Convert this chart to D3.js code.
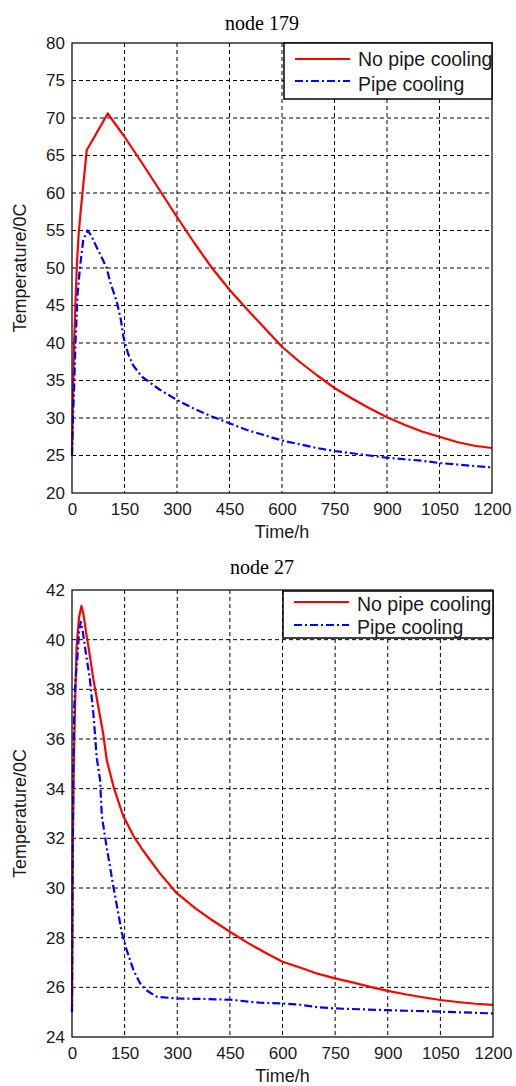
<!DOCTYPE html>
<html>

<head>
    <meta charset="utf-8">
    <style>
        body {
            margin: 0;
            background: #fff;
        }

        svg {
            display: block;
        }

        .tick-label {
            font-family: 'Liberation Sans', Arial, sans-serif;
            font-size: 17px;
            fill: #1a1a1a;
        }

        .axis-title {
            font-family: 'Liberation Sans', Arial, sans-serif;
            font-size: 18px;
            fill: #1a1a1a;
        }

        .chart-title {
            font-family: 'Liberation Serif', 'Times New Roman', serif;
            font-size: 20px;
            fill: #000;
        }

        .legend-text {
            font-family: 'Liberation Sans', Arial, sans-serif;
            font-size: 19.5px;
            fill: #1a1a1a;
        }
    </style>
</head>

<body>
    <svg width="516" height="1086"></svg>
</body>

<script src="https://d3js.org/d3.v7.min.js"></script>

<script>
    // tick values
    let xTicks = [0, 150, 300, 450, 600, 750, 900, 1050, 1200]
    let node179YTicks = [20, 25, 30, 35, 40, 45, 50, 55, 60, 65, 70, 75, 80]
    let node27YTicks = [24, 26, 28, 30, 32, 34, 36, 38, 40, 42]

    let seriesNames = ["No pipe cooling", "Pipe cooling"]

    // node 179, [time h, temperature]
    let node179NoPipe = [
        [0, 25], [3, 33], [6, 40], [10, 45.5], [14, 50.5], [19, 54.5], [25, 57.7], [42, 65.7],
        [102, 70.6], [147, 67.7], [200, 64], [250, 60.4], [300, 56.8], [350, 53.3],
        [400, 50], [450, 47.1], [500, 44.5], [550, 42], [600, 39.5], [650, 37.5], [700, 35.7],
        [750, 34], [800, 32.6], [850, 31.3], [900, 30.1], [950, 29.1], [1000, 28.2],
        [1050, 27.5], [1100, 26.8], [1150, 26.3], [1200, 26.0]
    ]
    let node179Pipe = [
        [0, 25], [3, 30], [6, 34], [10, 40], [16, 46.5], [23, 50.2], [32, 53.7], [40, 54.6],
        [45, 55], [55, 54.3], [70, 52.8], [85, 51.4], [99, 50], [110, 48], [128, 45.5],
        [140, 43], [147, 40.8], [160, 38.6], [175, 37], [200, 35.5], [250, 33.8], [300, 32.4],
        [350, 31.2], [400, 30.2], [450, 29.3], [500, 28.4], [550, 27.7], [600, 27.0],
        [650, 26.5], [700, 26.0], [750, 25.6], [800, 25.3], [850, 25.0], [900, 24.7],
        [950, 24.5], [1000, 24.3], [1050, 24.0], [1100, 23.8], [1150, 23.6], [1200, 23.4]
    ]

    // node 27
    let node27NoPipe = [
        [0, 25], [2, 31], [5, 35], [9, 37.5], [13, 39.7], [20, 40.9], [27, 41.36], [33, 41],
        [40, 40.3], [47, 39.7], [61, 38.4], [75, 37.3], [89, 36.2], [99, 35.15], [120, 34],
        [146, 32.9], [175, 32.1], [203, 31.5], [250, 30.6], [298, 29.8], [350, 29.2],
        [400, 28.7], [450, 28.24], [500, 27.8], [550, 27.4], [600, 27.03], [650, 26.8],
        [700, 26.55], [750, 26.36], [800, 26.2], [850, 26.02], [900, 25.86], [950, 25.72],
        [1000, 25.6], [1050, 25.49], [1100, 25.41], [1150, 25.34], [1200, 25.29]
    ]
    let node27Pipe = [
        [0, 25], [2, 31], [4, 35], [6, 37.2], [10, 38.4], [15, 39.2], [20, 40.3], [25, 40.72],
        [31, 40.3], [37, 39.7], [51, 38.4], [61, 37.0], [66, 36.1], [70, 35.3], [80, 34.35],
        [85, 32.9], [97, 31.8], [118, 30.05], [142, 28.2], [156, 27.5], [175, 26.7],
        [194, 26.16], [215, 25.85], [242, 25.62], [299, 25.55], [380, 25.53], [451, 25.5],
        [537, 25.38], [600, 25.35], [650, 25.3], [700, 25.2], [750, 25.15], [900, 25.08],
        [1050, 25.02], [1200, 24.95]
    ]

    let svg = d3.select("svg")

    let panels = [
        {
            title: "node 179", series: [node179NoPipe, node179Pipe], yTicks: node179YTicks,
            left: 72, right: 492, top: 43, bottom: 493, titleX: 262, titleY: 30,
            legend: { x1: 284, x2: 492, y1: 43, y2: 99, rows: [59, 81], textDy: [7, 10] }
        },
        {
            title: "node 27", series: [node27NoPipe, node27Pipe], yTicks: node27YTicks,
            left: 72, right: 493, top: 590, bottom: 1037, titleX: 262, titleY: 574,
            legend: { x1: 283, x2: 493, y1: 591, y2: 638, rows: [602, 625], textDy: [9, 9] }
        }
    ]

    let colors = ["#ff0000", "#0000ff"]
    let dashes = [null, "8,3,2,3"]

    panels.forEach(function (p) {
        let x = d3.scaleLinear()
            .domain([xTicks[0], xTicks[xTicks.length - 1]])
            .range([p.left, p.right])

        let y = d3.scaleLinear()
            .domain([p.yTicks[0], p.yTicks[p.yTicks.length - 1]])
            .range([p.bottom, p.top])

        let g = svg.append("g")

        // grid
        g.append("g")
            .selectAll("line")
            .data(xTicks.slice(1, -1))
            .join("line")
            .attr("x1", d => x(d))
            .attr("x2", d => x(d))
            .attr("y1", p.top)
            .attr("y2", p.bottom)
            .style("stroke", "#000")
            .style("stroke-width", 1)
            .style("stroke-dasharray", "4,3")

        g.append("g")
            .selectAll("line")
            .data(p.yTicks.slice(1, -1))
            .join("line")
            .attr("x1", p.left)
            .attr("x2", p.right)
            .attr("y1", d => y(d))
            .attr("y2", d => y(d))
            .style("stroke", "#000")
            .style("stroke-width", 1)
            .style("stroke-dasharray", "4,3")

        // curves
        let line = d3.line()
            .x(d => x(d[0]))
            .y(d => y(d[1]))

        g.append("g")
            .selectAll("path")
            .data(p.series)
            .join("path")
            .attr("d", d => line(d))
            .style("fill", "none")
            .style("stroke", (d, i) => colors[i])
            .style("stroke-width", 2.2)
            .style("stroke-linejoin", "round")
            .style("stroke-dasharray", (d, i) => dashes[i])

        // axes
        let xAxis = d3.axisBottom(x).tickValues(xTicks).tickFormat(d3.format("d")).tickSize(0).tickPadding(10)
        let yAxis = d3.axisLeft(y).tickValues(p.yTicks).tickFormat(d3.format("d")).tickSize(0).tickPadding(7)

        let xg = g.append("g")
            .attr("transform", `translate(0,${p.bottom})`)
            .call(xAxis)
        let yg = g.append("g")
            .attr("transform", `translate(${p.left},0)`)
            .call(yAxis)

        xg.select(".domain").remove()
        yg.select(".domain").remove()
        xg.selectAll("text").attr("class", "tick-label").attr("font-size", null).attr("font-family", null)
            .attr("dy", "0.71em")
        yg.selectAll("text").attr("class", "tick-label").attr("font-size", null).attr("font-family", null)

        // box
        g.append("rect")
            .attr("x", p.left)
            .attr("y", p.top)
            .attr("width", p.right - p.left)
            .attr("height", p.bottom - p.top)
            .style("fill", "none")
            .style("stroke", "#111")
            .style("stroke-width", 1.3)

        // titles
        g.append("text")
            .attr("class", "chart-title")
            .attr("x", p.titleX)
            .attr("y", p.titleY)
            .attr("text-anchor", "middle")
            .text(p.title)

        g.append("text")
            .attr("class", "axis-title")
            .attr("x", (p.left + p.right) / 2)
            .attr("y", p.bottom + 45)
            .attr("text-anchor", "middle")
            .text("Time/h")

        g.append("text")
            .attr("class", "axis-title")
            .attr("transform", `translate(26,${(p.top + p.bottom) / 2}) rotate(-90)`)
            .attr("text-anchor", "middle")
            .text("Temperature/0C")

        // legend
        let lg = g.append("g")
        lg.append("rect")
            .attr("x", p.legend.x1)
            .attr("y", p.legend.y1)
            .attr("width", p.legend.x2 - p.legend.x1)
            .attr("height", p.legend.y2 - p.legend.y1)
            .style("fill", "#fff")
            .style("stroke", "#000")
            .style("stroke-width", 1.5)

        seriesNames.forEach(function (name, i) {
            let ry = p.legend.rows[i]
            lg.append("line")
                .attr("x1", p.legend.x1 + 11)
                .attr("x2", p.legend.x1 + 66)
                .attr("y1", ry)
                .attr("y2", ry)
                .style("stroke", colors[i])
                .style("stroke-width", 2.2)
                .style("stroke-dasharray", dashes[i])
            lg.append("text")
                .attr("class", "legend-text")
                .attr("x", p.legend.x1 + 74)
                .attr("y", ry + p.legend.textDy[i])
                .text(name)
        })
    })
</script>

</html>
